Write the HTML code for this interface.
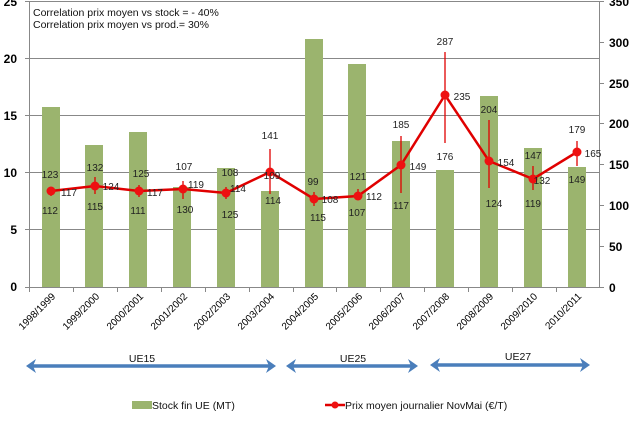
<!DOCTYPE html>
<html><head><meta charset="utf-8"><style>
html,body{margin:0;padding:0;background:#fff}
svg{display:block}
text{font-family:"Liberation Sans",sans-serif}
.d{font-size:10px;fill:#222;text-anchor:middle}
.ax{font-size:12px;font-weight:bold;fill:#000}
.xl{font-size:10px;fill:#000;text-anchor:end}
</style></head><body>
<svg width="632" height="432" viewBox="0 0 632 432">
<g stroke="#888" stroke-width="1">
<line x1="29" y1="1.5" x2="600" y2="1.5"/>
<line x1="29" y1="58.5" x2="600" y2="58.5"/>
<line x1="29" y1="115.5" x2="600" y2="115.5"/>
<line x1="29" y1="172.5" x2="600" y2="172.5"/>
<line x1="29" y1="229.5" x2="600" y2="229.5"/>
<line x1="29.5" y1="1" x2="29.5" y2="287"/>
<line x1="599.5" y1="1" x2="599.5" y2="287"/>
<line x1="29" y1="287.5" x2="600" y2="287.5"/>
</g>
<g stroke="#888">
<line x1="25" y1="1.5" x2="29" y2="1.5"/><line x1="25" y1="58.5" x2="29" y2="58.5"/><line x1="25" y1="115.5" x2="29" y2="115.5"/><line x1="25" y1="172.5" x2="29" y2="172.5"/><line x1="25" y1="229.5" x2="29" y2="229.5"/><line x1="25" y1="287.5" x2="29" y2="287.5"/>
<line x1="600" y1="1.5" x2="604" y2="1.5"/><line x1="600" y1="42.5" x2="604" y2="42.5"/><line x1="600" y1="83.5" x2="604" y2="83.5"/><line x1="600" y1="123.5" x2="604" y2="123.5"/><line x1="600" y1="164.5" x2="604" y2="164.5"/><line x1="600" y1="205.5" x2="604" y2="205.5"/><line x1="600" y1="246.5" x2="604" y2="246.5"/><line x1="600" y1="287.5" x2="604" y2="287.5"/>
<line x1="29.5" y1="287" x2="29.5" y2="292"/><line x1="73.5" y1="287" x2="73.5" y2="292"/><line x1="117.5" y1="287" x2="117.5" y2="292"/><line x1="161.5" y1="287" x2="161.5" y2="292"/><line x1="205.5" y1="287" x2="205.5" y2="292"/><line x1="249.5" y1="287" x2="249.5" y2="292"/><line x1="293.5" y1="287" x2="293.5" y2="292"/><line x1="336.5" y1="287" x2="336.5" y2="292"/><line x1="380.5" y1="287" x2="380.5" y2="292"/><line x1="424.5" y1="287" x2="424.5" y2="292"/><line x1="468.5" y1="287" x2="468.5" y2="292"/><line x1="512.5" y1="287" x2="512.5" y2="292"/><line x1="556.5" y1="287" x2="556.5" y2="292"/>
</g>
<g class="ax" text-anchor="end">
<text x="17" y="6">25</text><text x="17" y="63">20</text><text x="17" y="120">15</text><text x="17" y="177">10</text><text x="17" y="234">5</text><text x="17" y="291">0</text>
</g>
<g class="ax" text-anchor="start">
<text x="609" y="6">350</text><text x="609" y="47">300</text><text x="609" y="88">250</text><text x="609" y="128">200</text><text x="609" y="169">150</text><text x="609" y="210">100</text><text x="609" y="251">50</text><text x="609" y="292">0</text>
</g>
<g fill="#9bb46e">
<rect x="42" y="107" width="18" height="180"/>
<rect x="85" y="145" width="18" height="142"/>
<rect x="129" y="132" width="18" height="155"/>
<rect x="173" y="187" width="18" height="100"/>
<rect x="217" y="168" width="18" height="119"/>
<rect x="261" y="191" width="18" height="96"/>
<rect x="305" y="39" width="18" height="248"/>
<rect x="348" y="64" width="18" height="223"/>
<rect x="392" y="141" width="18" height="146"/>
<rect x="436" y="170" width="18" height="117"/>
<rect x="480" y="96" width="18" height="191"/>
<rect x="524" y="148" width="18" height="139"/>
<rect x="568" y="167" width="18" height="120"/>
</g>
<text x="33" y="16" style="font-size:10.5px;fill:#111">Correlation prix moyen vs stock = - 40%</text>
<text x="33" y="28" style="font-size:10.5px;fill:#111">Correlation prix moyen vs prod.= 30%</text>
<g stroke="#e00000" stroke-width="1.3">
<line x1="51" y1="187" x2="51" y2="196"/>
<line x1="95" y1="177" x2="95" y2="194"/>
<line x1="139" y1="185" x2="139" y2="197"/>
<line x1="183" y1="181" x2="183" y2="199"/>
<line x1="226" y1="187" x2="226" y2="199"/>
<line x1="270" y1="149" x2="270" y2="194"/>
<line x1="314" y1="192" x2="314" y2="206"/>
<line x1="358" y1="189" x2="358" y2="199"/>
<line x1="401" y1="136" x2="401" y2="193"/>
<line x1="445" y1="52" x2="445" y2="143"/>
<line x1="489" y1="120" x2="489" y2="188"/>
<line x1="533" y1="166" x2="533" y2="190"/>
<line x1="577" y1="141" x2="577" y2="166"/>
</g>
<polyline fill="none" stroke="#e00000" stroke-width="2.5" points="51,191 95,186 139,191 183,189 226,193 270,172 314,199 358,196 401,165 445,95 489,161 533,179 577,152"/>
<g fill="#ee1111">
<circle cx="51" cy="191" r="4.5"/><circle cx="95" cy="186" r="4.5"/><circle cx="139" cy="191" r="4.5"/><circle cx="183" cy="189" r="4.5"/><circle cx="226" cy="193" r="4.5"/><circle cx="270" cy="172" r="4.5"/><circle cx="314" cy="199" r="4.5"/><circle cx="358" cy="196" r="4.5"/><circle cx="401" cy="165" r="4.5"/><circle cx="445" cy="95" r="4.5"/><circle cx="489" cy="161" r="4.5"/><circle cx="533" cy="179" r="4.5"/><circle cx="577" cy="152" r="4.5"/>
</g>
<g class="d">
<text x="50" y="178">123</text><text x="69" y="196">117</text><text x="50" y="214">112</text>
<text x="95" y="171">132</text><text x="111" y="190">124</text><text x="95" y="210">115</text>
<text x="141" y="177">125</text><text x="155" y="196">117</text><text x="138" y="214">111</text>
<text x="184" y="170">107</text><text x="196" y="188">119</text><text x="185" y="213">130</text>
<text x="230" y="176">108</text><text x="238" y="192">114</text><text x="230" y="218">125</text>
<text x="270" y="139">141</text><text x="272" y="179">109</text><text x="273" y="204">114</text>
<text x="313" y="185">99</text><text x="330" y="203">108</text><text x="318" y="221">115</text>
<text x="358" y="180">121</text><text x="374" y="200">112</text><text x="357" y="216">107</text>
<text x="401" y="128">185</text><text x="418" y="170">149</text><text x="401" y="209">117</text>
<text x="445" y="45">287</text><text x="462" y="100">235</text><text x="445" y="160">176</text>
<text x="489" y="113">204</text><text x="506" y="166">154</text><text x="494" y="207">124</text>
<text x="533" y="159">147</text><text x="542" y="184">132</text><text x="533" y="207">119</text>
<text x="577" y="133">179</text><text x="593" y="157">165</text><text x="577" y="183">149</text>
</g>
<g class="xl">
<text transform="translate(56,297) rotate(-45)">1998/1999</text>
<text transform="translate(100,297) rotate(-45)">1999/2000</text>
<text transform="translate(144,297) rotate(-45)">2000/2001</text>
<text transform="translate(188,297) rotate(-45)">2001/2002</text>
<text transform="translate(231,297) rotate(-45)">2002/2003</text>
<text transform="translate(275,297) rotate(-45)">2003/2004</text>
<text transform="translate(319,297) rotate(-45)">2004/2005</text>
<text transform="translate(363,297) rotate(-45)">2005/2006</text>
<text transform="translate(406,297) rotate(-45)">2006/2007</text>
<text transform="translate(450,297) rotate(-45)">2007/2008</text>
<text transform="translate(494,297) rotate(-45)">2008/2009</text>
<text transform="translate(538,297) rotate(-45)">2009/2010</text>
<text transform="translate(582,297) rotate(-45)">2010/2011</text>
</g>
<g stroke="#4a7ebb" stroke-width="3.5">
<line x1="32" y1="366" x2="270" y2="366"/>
<line x1="292" y1="366" x2="412" y2="366"/>
<line x1="436" y1="365" x2="584" y2="365"/>
</g>
<g fill="#4a7ebb">
<polygon points="26,366 36,359 33,366 36,373"/>
<polygon points="276,366 266,359 269,366 266,373"/>
<polygon points="286,366 296,359 293,366 296,373"/>
<polygon points="418,366 408,359 411,366 408,373"/>
<polygon points="430,365 440,358 437,365 440,372"/>
<polygon points="590,365 580,358 583,365 580,372"/>
</g>
<g style="font-size:10.5px;fill:#111" text-anchor="middle">
<text x="142" y="362">UE15</text><text x="353" y="362">UE25</text><text x="518" y="360">UE27</text>
</g>
<rect x="132" y="401" width="20" height="8" fill="#9bb46e"/>
<text x="152" y="409" style="font-size:10.5px;fill:#111">Stock fin UE (MT)</text>
<line x1="325" y1="405" x2="345" y2="405" stroke="#e00000" stroke-width="2.5"/>
<circle cx="335" cy="405" r="3.5" fill="#ee1111"/>
<text x="345" y="409" style="font-size:10.5px;fill:#111">Prix moyen journalier NovMai (€/T)</text>
</svg>
</body></html>
